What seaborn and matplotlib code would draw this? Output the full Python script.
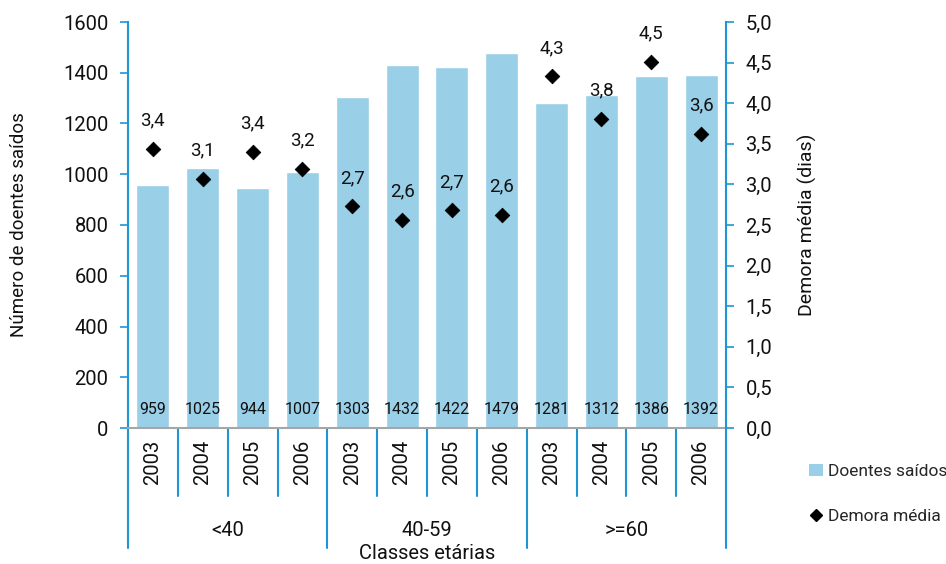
import matplotlib
matplotlib.use("Agg")
import matplotlib.pyplot as plt
import matplotlib.transforms as mtransforms
from matplotlib.patches import Patch
from matplotlib.lines import Line2D
from matplotlib.ticker import FuncFormatter
import seaborn as sns
import pandas as pd

# ---- data ----
groups = ["<40", "40-59", ">=60"]
years = ["2003", "2004", "2005", "2006"]
doentes = [959, 1025, 944, 1007, 1303, 1432, 1422, 1479, 1281, 1312, 1386, 1392]
demora = [3.44, 3.07, 3.40, 3.19, 2.73, 2.56, 2.68, 2.62, 4.33, 3.81, 4.51, 3.62]

sns.set_theme(style="white")
plt.rcParams["font.family"] = ["Roboto", "DejaVu Sans"]

BAR = "#9ACFE8"
BLUE = "#1E96D4"
TXT = "#111111"

keys = [f"{g}|{y}" for g in groups for y in years]
df = pd.DataFrame({"key": keys, "doentes": doentes, "demora": demora,
                   "year": [y for g in groups for y in years]})

fig = plt.figure(figsize=(9.46, 5.64), dpi=100)
ax = fig.add_axes([128/946, 1-428/564, (726-128)/946, (428-22)/564])

sns.barplot(data=df, x="key", y="doentes", color=BAR, width=0.66, ax=ax,
            saturation=1, order=keys)
ax.set_ylim(0, 1600)
ax.set_xlim(-0.5, len(keys)-0.5)
ax.set_yticks(range(0, 1601, 200))
ax.set_xticks([])
ax.set_xlabel("")
ax.set_ylabel("Número de doentes saídos", fontsize=13.5, color=TXT)
ax.yaxis.set_label_coords(-100/598, 0.5)
ax.tick_params(axis="y", which="both", left=True, length=6, width=1.2, color=BLUE,
               labelsize=14.5, pad=8, labelcolor=TXT)

# value labels in bars
for i, v in enumerate(doentes):
    ax.text(i, 72, f"{v}", ha="center", va="center", fontsize=11.5, color=TXT)

for s in ["top", "right"]:
    ax.spines[s].set_visible(False)
ax.spines["left"].set_color(BLUE)
ax.spines["left"].set_linewidth(1.5)
ax.spines["bottom"].set_color("#A6A6A6")
ax.spines["bottom"].set_linewidth(1.5)

# secondary axis
ax2 = ax.twinx()
sns.scatterplot(x=list(range(len(keys))), y=demora, marker="D", color="black",
                s=55, edgecolor="black", ax=ax2, zorder=5, legend=False)
ax2.set_ylim(0, 5.0)
ax2.set_xlim(-0.5, len(keys)-0.5)
ax2.set_yticks([i*0.5 for i in range(11)])
ax2.yaxis.set_major_formatter(FuncFormatter(lambda v, p: f"{v:.1f}".replace(".", ",")))
ax2.set_ylabel("Demora média (dias)", fontsize=14, color=TXT)
ax2.yaxis.set_label_coords(1 + 72/598, 0.5)
ax2.tick_params(axis="y", which="both", right=True, length=6, width=1.2, color=BLUE,
                labelsize=14.5, pad=8, labelcolor=TXT)
for s in ["top", "left", "bottom"]:
    ax2.spines[s].set_visible(False)
ax2.spines["right"].set_color(BLUE)
ax2.spines["right"].set_linewidth(1.5)

for i, v in enumerate(demora):
    ax2.text(i, v + 0.35, f"{v:.1f}".replace(".", ","), ha="center", va="center",
             fontsize=13.5, color=TXT)

# category axis: separators, year and group labels
trans = mtransforms.blended_transform_factory(ax.transData, ax.transAxes)
n = len(keys)
for i in range(n + 1):
    xpos = i - 0.5
    ybot = -0.296 if i % 4 == 0 else -0.1675
    ax.plot([xpos, xpos], [0, ybot], color=BLUE, lw=1.5, transform=trans, clip_on=False)
for i, y in enumerate(df["year"]):
    ax.text(i, -0.085, y, rotation=90, ha="center", va="center", fontsize=14.5,
            transform=trans, color=TXT)
for gi, g in enumerate(groups):
    ax.text(gi*4 + 1.5, -0.252, g, ha="center", va="center", fontsize=14.5,
            transform=trans, color=TXT)
ax.text(5.5, -0.308, "Classes etárias", ha="center", va="center", fontsize=14.5,
        transform=trans, color=TXT)

handles = [Patch(facecolor=BAR, edgecolor="none"),
           Line2D([], [], marker="D", color="black", linestyle="none", markersize=6)]
fig.legend(handles, ["Doentes saídos", "Demora média"], loc="upper left",
           bbox_to_anchor=(800/946, 1-455/564), frameon=False, fontsize=12.5,
           handlelength=0.8, handletextpad=0.3, labelspacing=1.75, borderpad=0)

fig.savefig("out.png", dpi=100)
